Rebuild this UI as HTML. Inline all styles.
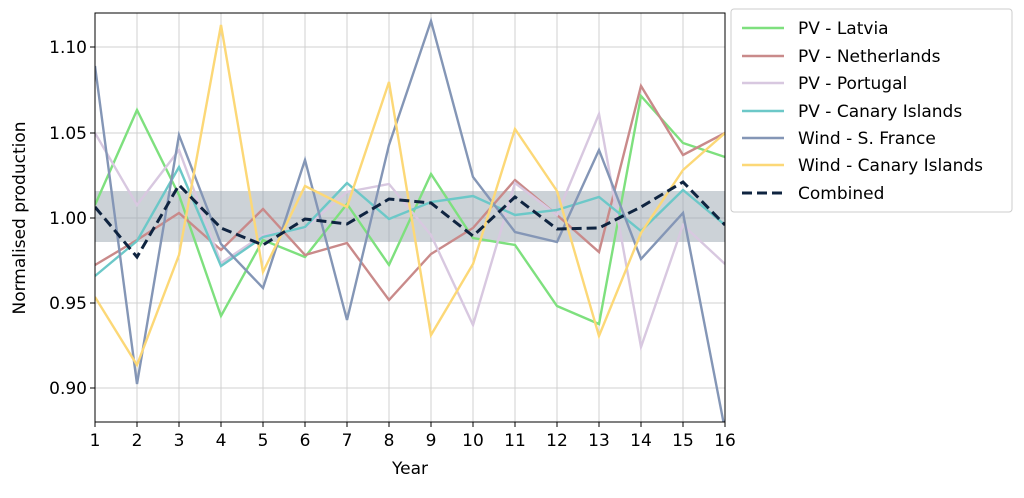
<!DOCTYPE html>
<html><head><meta charset="utf-8"><style>body{margin:0;background:#fff}svg text{font-family:"DejaVu Sans","Liberation Sans",sans-serif;fill:#000}</style></head>
<body>
<svg width="1024" height="493" xmlns="http://www.w3.org/2000/svg">
<defs><clipPath id="c"><rect x="95" y="13" width="630" height="409"/></clipPath></defs>
<g stroke="#d0d0d0" stroke-width="1">
<line x1="137" y1="13" x2="137" y2="422"/><line x1="179" y1="13" x2="179" y2="422"/><line x1="221" y1="13" x2="221" y2="422"/><line x1="263" y1="13" x2="263" y2="422"/><line x1="305" y1="13" x2="305" y2="422"/><line x1="347" y1="13" x2="347" y2="422"/><line x1="389" y1="13" x2="389" y2="422"/><line x1="431" y1="13" x2="431" y2="422"/><line x1="473" y1="13" x2="473" y2="422"/><line x1="515" y1="13" x2="515" y2="422"/><line x1="557" y1="13" x2="557" y2="422"/><line x1="599" y1="13" x2="599" y2="422"/><line x1="641" y1="13" x2="641" y2="422"/><line x1="683" y1="13" x2="683" y2="422"/>
<line x1="95" y1="47" x2="725" y2="47"/><line x1="95" y1="133" x2="725" y2="133"/><line x1="95" y1="218" x2="725" y2="218"/><line x1="95" y1="303" x2="725" y2="303"/><line x1="95" y1="388" x2="725" y2="388"/>
</g>
<rect x="95" y="191" width="630" height="51" fill="#9aa5b0" opacity="0.5"/>
<g clip-path="url(#c)" fill="none" stroke-width="2.4" stroke-linejoin="miter">
<polyline stroke="#7ee07e" points="95,205 137,110 179,195 221,316 263,240 305,257 347,204 389,265 431,174 473,238 515,245 557,306 599,324 641,96 683,143 725,157"/>
<polyline stroke="#c98a8a" points="95,265 137,240 179,213 221,250 263,209 305,255 347,243 389,300 431,254 473,228 515,180 557,215 599,252 641,86 683,155 725,133"/>
<polyline stroke="#d8c8e0" points="95,133 137,205 179,150 221,263 263,235 305,228 347,192 389,184 431,235 473,325 515,183 557,215 599,114 641,347 683,225 725,264"/>
<polyline stroke="#6cc8c8" points="95,276 137,241 179,167 221,266 263,237 305,227 347,183 389,219 431,202 473,196 515,215 557,210 599,197 641,231 683,190 725,225"/>
<polyline stroke="#8496b6" points="95,66 137,384 179,135 221,244 263,288 305,160 347,320 389,145 431,21 473,177 515,232 557,242 599,150 641,259 683,213 725,430"/>
<polyline stroke="#fcd877" points="95,297 137,365 179,255 221,25 263,272 305,186 347,207 389,82 431,335 473,264 515,129 557,191 599,336 641,233 683,170 725,133"/>
<polyline stroke="#0f2440" stroke-width="3" stroke-dasharray="10,5" points="95,207 137,257 179,185 221,228 263,245 305,219 347,224 389,199 431,203 473,236 515,197 557,229 599,228 641,207 683,182 725,225"/>
</g>
<rect x="95" y="13" width="630" height="409" fill="none" stroke="#000" stroke-width="1"/>
<g stroke="#000"><line x1="95" y1="422" x2="95" y2="427"/><line x1="137" y1="422" x2="137" y2="427"/><line x1="179" y1="422" x2="179" y2="427"/><line x1="221" y1="422" x2="221" y2="427"/><line x1="263" y1="422" x2="263" y2="427"/><line x1="305" y1="422" x2="305" y2="427"/><line x1="347" y1="422" x2="347" y2="427"/><line x1="389" y1="422" x2="389" y2="427"/><line x1="431" y1="422" x2="431" y2="427"/><line x1="473" y1="422" x2="473" y2="427"/><line x1="515" y1="422" x2="515" y2="427"/><line x1="557" y1="422" x2="557" y2="427"/><line x1="599" y1="422" x2="599" y2="427"/><line x1="641" y1="422" x2="641" y2="427"/><line x1="683" y1="422" x2="683" y2="427"/><line x1="725" y1="422" x2="725" y2="427"/>
<line x1="90" y1="47" x2="95" y2="47"/><line x1="90" y1="133" x2="95" y2="133"/><line x1="90" y1="218" x2="95" y2="218"/><line x1="90" y1="303" x2="95" y2="303"/><line x1="90" y1="388" x2="95" y2="388"/></g>
<g font-size="17" text-anchor="middle"><text x="95" y="446">1</text><text x="137" y="446">2</text><text x="179" y="446">3</text><text x="221" y="446">4</text><text x="263" y="446">5</text><text x="305" y="446">6</text><text x="347" y="446">7</text><text x="389" y="446">8</text><text x="431" y="446">9</text><text x="473" y="446">10</text><text x="515" y="446">11</text><text x="557" y="446">12</text><text x="599" y="446">13</text><text x="641" y="446">14</text><text x="683" y="446">15</text><text x="725" y="446">16</text>
<text x="410" y="474">Year</text></g>
<g font-size="17" text-anchor="end"><text x="87" y="53">1.10</text><text x="87" y="139">1.05</text><text x="87" y="224">1.00</text><text x="87" y="309">0.95</text><text x="87" y="394">0.90</text></g>
<text font-size="17" text-anchor="middle" transform="translate(25,218) rotate(-90)">Normalised production</text>
<rect x="731" y="9" width="281" height="203" rx="3" fill="#fff" stroke="#ccc"/>
<g stroke-width="2.4">
<line x1="742" y1="28" x2="784" y2="28" stroke="#7ee07e"/>
<line x1="742" y1="56" x2="784" y2="56" stroke="#c98a8a"/>
<line x1="742" y1="83" x2="784" y2="83" stroke="#d8c8e0"/>
<line x1="742" y1="111" x2="784" y2="111" stroke="#6cc8c8"/>
<line x1="742" y1="138" x2="784" y2="138" stroke="#8496b6"/>
<line x1="742" y1="165" x2="784" y2="165" stroke="#fcd877"/>
<line x1="742" y1="193" x2="784" y2="193" stroke="#0f2440" stroke-width="3" stroke-dasharray="10,5"/>
</g>
<g font-size="17"><text x="798" y="34">PV - Latvia</text><text x="798" y="62">PV - Netherlands</text><text x="798" y="89">PV - Portugal</text><text x="798" y="117">PV - Canary Islands</text><text x="798" y="144">Wind - S. France</text><text x="798" y="171">Wind - Canary Islands</text><text x="798" y="199">Combined</text></g>
</svg>
</body></html>
